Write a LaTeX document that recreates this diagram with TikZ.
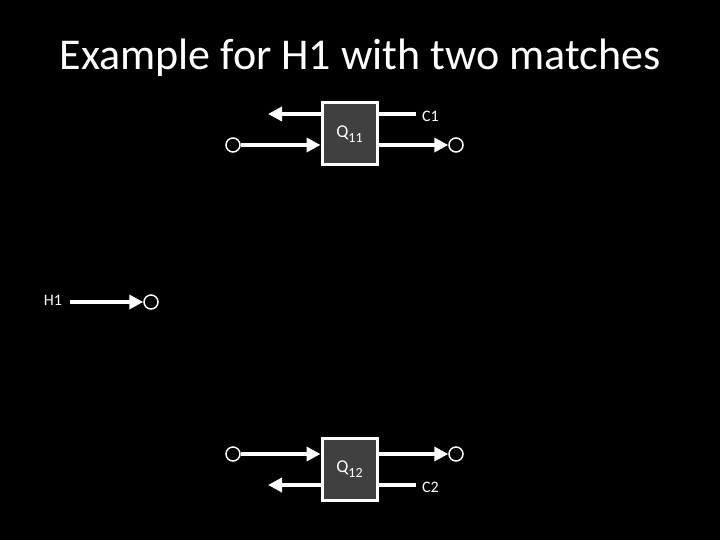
\documentclass[tikz,border=0pt]{standalone}
\usepackage{fontspec}
\setmainfont{Carlito}
\usetikzlibrary{arrows.meta}
\newcommand{\qsub}[1]{\raisebox{-5pt}{\fontsize{14}{16}\selectfont #1}}
\begin{document}
\begin{tikzpicture}[x=1pt,y=-1pt,
  qbox/.style={draw=white,line width=3pt,fill=black!75,minimum width=55pt,minimum height=62pt,inner sep=0pt,text=white,font=\fontsize{18}{20}\selectfont},
  port/.style={circle,draw=white,line width=1.5pt,fill=black,minimum size=14pt,inner sep=0pt},
  flow/.style={draw=white,line width=4pt,-{Triangle[length=14pt,width=14pt]}},
  plain/.style={draw=white,line width=4pt},
  lbl/.style={text=white,font=\fontsize{16}{19}\selectfont,inner sep=0pt}]
\fill[black] (0,0) rectangle (720,540);
\useasboundingbox (0,0) rectangle (720,540);
\node[text=white,font=\fontsize{44}{50}\selectfont] (title) at (360,58) {Example for H1 with two matches};
% Q11
\node[qbox] (q11) at (349.5,134) {Q\qsub{11}};
\node[port] (i11) at (233,145) {};
\node[port] (o11) at (456,145) {};
\coordinate (b11) at (268,114);
\coordinate (c11) at (416,114);
\node[lbl,anchor=west] (c1) at (422,116) {C1};
\draw[flow] (i11) -- (i11 -| q11.west);
\draw[flow] (o11 -| q11.east) -- (o11);
\draw[flow] (b11 -| q11.west) -- (b11);
\draw[plain] (c11 -| q11.east) -- (c11);
% Q12
\node[qbox] (q12) at (349.5,469) {Q\qsub{12}};
\node[port] (i12) at (233,454) {};
\node[port] (o12) at (456,454) {};
\coordinate (b12) at (268,485);
\coordinate (c12) at (416,485);
\node[lbl,anchor=west] (c2) at (422,487) {C2};
\draw[flow] (i12) -- (i12 -| q12.west);
\draw[flow] (o12 -| q12.east) -- (o12);
\draw[flow] (b12 -| q12.west) -- (b12);
\draw[plain] (c12 -| q12.east) -- (c12);
% H1
\node[lbl] (h1) at (53,300) {H1};
\node[port] (p1) at (151,302) {};
\coordinate (h1s) at (70,302);
\draw[flow] (h1s) -- (p1);
\end{tikzpicture}
\end{document}
